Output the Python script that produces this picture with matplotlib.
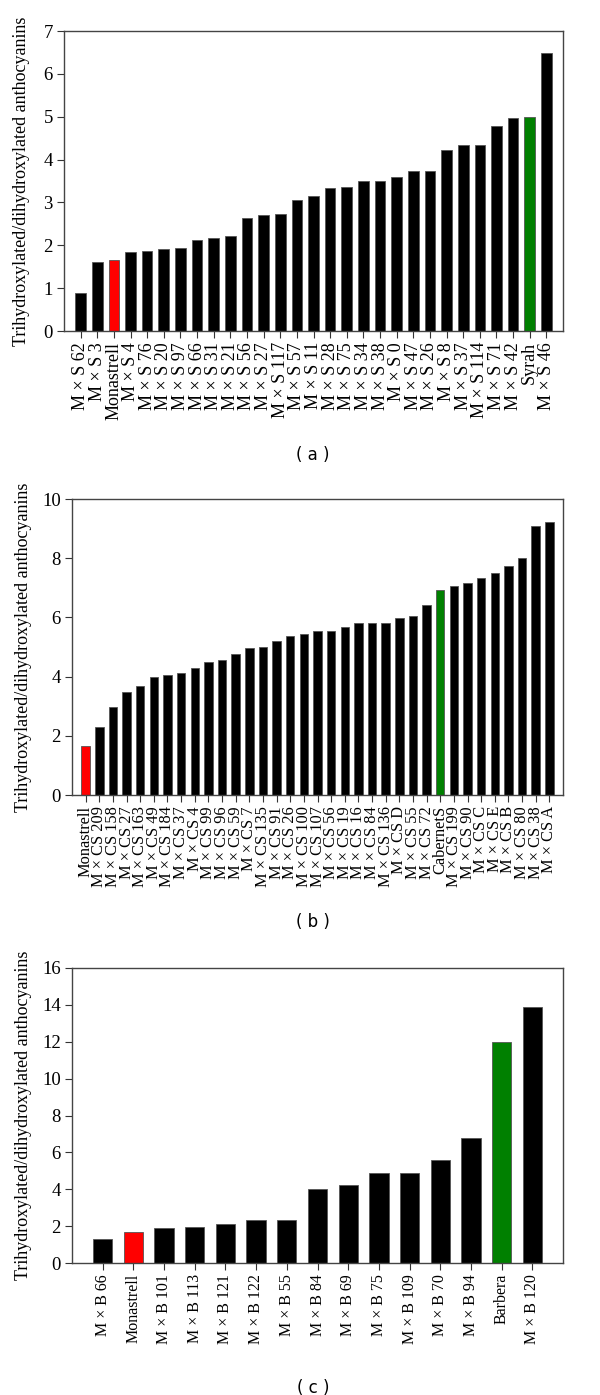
import matplotlib
matplotlib.use("Agg")
import matplotlib.pyplot as plt

# ---------------- data ----------------
labels_a = ["M × S 62", "M × S 3", "Monastrell", "M × S 4", "M × S 76", "M × S 20", "M × S 97",
            "M × S 66", "M × S 31", "M × S 21", "M × S 56", "M × S 27", "M × S 117", "M × S 57",
            "M × S 11", "M × S 28", "M × S 75", "M × S 34", "M × S 38", "M × S 0", "M × S 47",
            "M × S 26", "M × S 8", "M × S 37", "M × S 114", "M × S 71", "M × S 42", "Syrah",
            "M × S 46"]
values_a = [0.88, 1.62, 1.66, 1.84, 1.87, 1.91, 1.93, 2.12, 2.16, 2.21, 2.63, 2.71, 2.72, 3.05,
            3.14, 3.34, 3.35, 3.49, 3.51, 3.59, 3.74, 3.74, 4.23, 4.35, 4.35, 4.78, 4.96, 5.00,
            6.49]

labels_b = ["Monastrell", "M × CS 209", "M × CS 158", "M × CS 27", "M × CS 163", "M × CS 49",
            "M × CS 184", "M × CS 37", "M × CS 4", "M × CS 99", "M × CS 96", "M × CS 59",
            "M × CS 7", "M × CS 135", "M × CS 91", "M × CS 26", "M × CS 100", "M × CS 107",
            "M × CS 56", "M × CS 19", "M × CS 16", "M × CS 84", "M × CS 136", "M × CS D",
            "M × CS 55", "M × CS 72", "CabernetS", "M × CS 199", "M × CS 90", "M × CS C",
            "M × CS E", "M × CS B", "M × CS 80", "M × CS 38", "M × CS A"]
values_b = [1.65, 2.29, 2.98, 3.49, 3.69, 4.00, 4.07, 4.13, 4.30, 4.49, 4.57, 4.78, 4.98, 5.01,
            5.20, 5.36, 5.44, 5.53, 5.55, 5.69, 5.81, 5.82, 5.82, 5.99, 6.06, 6.42, 6.93, 7.06,
            7.15, 7.33, 7.51, 7.75, 8.02, 9.08, 9.22]

labels_c = ["M × B 66", "Monastrell", "M × B 101", "M × B 113", "M × B 121", "M × B 122",
            "M × B 55", "M × B 84", "M × B 69", "M × B 75", "M × B 109", "M × B 70", "M × B 94",
            "Barbera", "M × B 120"]
values_c = [1.29, 1.67, 1.88, 1.95, 2.12, 2.32, 2.32, 4.02, 4.22, 4.87, 4.87, 5.59, 6.77,
            11.98, 13.86]

red_name = "Monastrell"
green_names = ["Syrah", "CabernetS", "Barbera"]

ylabel = "Trihydroxylated/dihydroxylated anthocyanins"
captions = ["( a )", "( b )", "( c )"]
ylims = [(0, 7), (0, 10), (0, 16)]
yticks = [list(range(0, 8, 1)), list(range(0, 11, 2)), list(range(0, 17, 2))]

# ---------------- figure ----------------
W, H = 600, 1395
fig = plt.figure(figsize=(W / 100, H / 100), dpi=100)

serif = ["Liberation Serif", "DejaVu Serif"]

# pixel boxes: left, right, top, bottom
boxes = [(64, 563, 31, 331), (72, 563, 499, 795), (72, 563, 968, 1263)]
caption_y = [455, 922, 1388]
ylabel_x = [30, 32, 32]
widths = [0.64, 0.62, 0.63]
xfont = [13, 11.8, 11.5]

datasets = [(labels_a, values_a), (labels_b, values_b), (labels_c, values_c)]

for i, ((labs, vals), (l, r, t, b)) in enumerate(zip(datasets, boxes)):
    ax = fig.add_axes([l / W, (H - b) / H, (r - l) / W, (b - t) / H])
    colors = []
    for n in labs:
        if n == red_name:
            colors.append("#ff0000")
        elif n in green_names:
            colors.append("#008000")
        else:
            colors.append("#000000")
    x = list(range(len(labs)))
    ax.bar(x, vals, width=widths[i], color=colors, edgecolor="#555555", linewidth=0.6,
           zorder=2)
    ax.set_xlim(-1, len(labs))
    ax.set_ylim(*ylims[i])
    ax.set_yticks(yticks[i])
    ax.set_yticklabels([str(v) for v in yticks[i]], family=serif, fontsize=13.5)
    ax.set_xticks(x)
    ax.set_xticklabels(labs, rotation=90, family=serif, fontsize=xfont[i])
    ax.tick_params(axis="both", direction="out", length=5, width=0.8, color="#333333")
    ax.tick_params(axis="x", pad=3)
    ax.tick_params(axis="y", pad=3)
    for s in ax.spines.values():
        s.set_color("#444444")
        s.set_linewidth(1.0)
    ax.set_ylabel(ylabel, family=serif, fontsize=13)
    ax.yaxis.set_label_coords((ylabel_x[i] - l) / (r - l), 0.5)
    fig.text(313 / W, 1 - caption_y[i] / H, captions[i], ha="center", va="center",
             fontsize=12, family=["DejaVu Sans"])

fig.savefig("out.png", dpi=100)
